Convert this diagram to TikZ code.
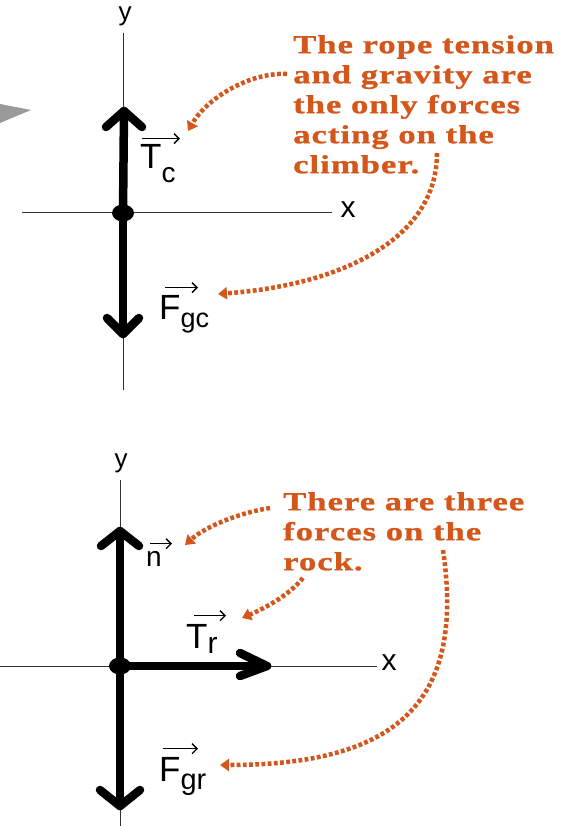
\documentclass[tikz,border=0pt]{standalone}
\usepackage{fontspec}
\usetikzlibrary{arrows.meta,shapes.geometric}
\newfontfamily\notefont{Liberation Serif Bold}[FakeStretch=1.33,LetterSpace=4,FakeBold=1]
\newfontfamily\labfont{Liberation Sans}
\definecolor{orng}{HTML}{D4561A}
\definecolor{wedge}{HTML}{9A9A9A}
\begin{document}
\begin{tikzpicture}[x=1pt,y=-1pt,
  axis/.style={line width=1pt, draw=black!80},
  force/.style={line width=8.5pt, line cap=round, line join=round},
  note/.style={font=\notefont\fontsize{26}{30}\selectfont, text=orng, align=left, inner sep=0pt, anchor=north west},
  pointer/.style={draw=orng, line width=4.5pt, dash pattern=on 3.8pt off 2.4pt, -{Triangle[length=9pt,width=12pt]}},
  vecarr/.style={line width=1.4pt, -{Straight Barb[length=5pt,width=10pt,line width=1.4pt]}},
  lab/.style={inner sep=0pt, anchor=base west, font=\labfont\fontsize{35}{35}\selectfont},
  axlab/.style={inner sep=0pt, font=\labfont\fontsize{26}{26}\selectfont},
  dot/.style={ellipse, fill=black, minimum width=22pt, minimum height=17pt, inner sep=0pt}]
\useasboundingbox (0,0) rectangle (574,826);
\fill[white] (0,0) rectangle (574,826);

% gray wedge
\fill[wedge] (0,104) -- (31,110) -- (0,123) -- cycle;

% ---------- top diagram ----------
\coordinate (ya1) at (123,33);
\coordinate (yb1) at (123,390);
\coordinate (xa1) at (22,213);
\coordinate (xb1) at (332,213);
\draw[axis] (ya1) -- (yb1);
\draw[axis] (xa1) -- (xb1);
\node[axlab] (ylab1) at (125,16) {y};
\node[axlab, font=\labfont\fontsize{30}{30}\selectfont] (xlab1) at (348,210) {x};

\coordinate (o1c) at (123,213);
\coordinate (t1u) at (124,111);
\coordinate (t1d) at (123,334);
\draw[force] (o1c) -- (t1u);
\draw[force] ([shift={(-18,16)}]t1u) -- (t1u) -- ([shift={(18,16)}]t1u);
\draw[force] (o1c) -- (t1d);
\draw[force] ([shift={(-16,-16)}]t1d) -- (t1d) -- ([shift={(16,-16)}]t1d);
\node[dot] (o1) at (o1c) {};

\node[lab] (Tc) at (140,169) {T\raisebox{-14pt}{\fontsize{28}{28}\selectfont c}};
\draw[vecarr] ([xshift=2pt,yshift=6pt]Tc.north west) -- ++(38,0);
\node[lab] (Fgc) at (159,319) {F\raisebox{-8pt}{\fontsize{27}{27}\selectfont gc}};
\draw[vecarr] ([xshift=6pt,yshift=7pt]Fgc.north west) -- ++(33,0);

\node[note] (note1) at (293,35) {The rope tension\\and gravity are\\the only forces\\acting on the\\climber.};

\coordinate (p1s) at (287,74);
\coordinate (p1e) at (188,131);
\coordinate (p2s) at (437,153);
\coordinate (p2e) at (218,294);
\draw[pointer] (p1s) .. controls (250,72) and (207,98) .. (p1e);
\draw[pointer] (p2s) .. controls (437,240) and (340,285) .. (p2e);

% ---------- bottom diagram ----------
\coordinate (ya2) at (120,480);
\coordinate (yb2) at (120,826);
\coordinate (xa2) at (0,666);
\coordinate (xb2) at (377,666);
\draw[axis] (ya2) -- (yb2);
\draw[axis] (xa2) -- (xb2);
\node[axlab] (ylab2) at (121,463) {y};
\node[axlab, font=\labfont\fontsize{30}{30}\selectfont] (xlab2) at (389,663) {x};

\coordinate (o2c) at (120,666);
\coordinate (t2u) at (120,531);
\coordinate (t2r) at (267,666);
\coordinate (t2d) at (120,806);
\draw[force] (o2c) -- (t2u);
\draw[force] ([shift={(-19,15)}]t2u) -- (t2u) -- ([shift={(19,15)}]t2u);
\draw[force] (o2c) -- (t2d);
\draw[force] ([shift={(-20,-16)}]t2d) -- (t2d) -- ([shift={(20,-16)}]t2d);
\draw[force] (o2c) -- (t2r);
\draw[force] ([shift={(-27,-13)}]t2r) -- (t2r) -- ([shift={(-27,10)}]t2r);
\node[dot] (o2) at (o2c) {};

\node[lab, font=\labfont\fontsize{28}{28}\selectfont] (nv) at (146,566) {n};
\draw[vecarr] ([xshift=4pt,yshift=7pt]nv.north west) -- ++(22,0);
\node[lab] (Tr) at (186,648) {T\raisebox{-5pt}{\fontsize{30}{30}\selectfont r}};
\draw[vecarr] ([xshift=8pt,yshift=8pt]Tr.north west) -- ++(32,0);
\node[lab] (Fgr) at (159,781) {F\raisebox{-8pt}{\fontsize{29}{29}\selectfont gr}};
\draw[vecarr] ([xshift=4pt,yshift=8pt]Fgr.north west) -- ++(35,0);

\node[note] (note2) at (283,492) {There are three\\forces on the\\rock.};

\coordinate (p3s) at (270,508);
\coordinate (p3e) at (185,545);
\coordinate (p4s) at (303,578);
\coordinate (p4e) at (242,618);
\coordinate (p5s) at (443,550);
\coordinate (p5e) at (220,765);
\draw[pointer] (p3s) .. controls (238,513) and (205,527) .. (p3e);
\draw[pointer] (p4s) .. controls (288,596) and (265,608) .. (p4e);
\draw[pointer] (p5s) .. controls (465,700) and (400,765) .. (p5e);
\end{tikzpicture}
\end{document}
